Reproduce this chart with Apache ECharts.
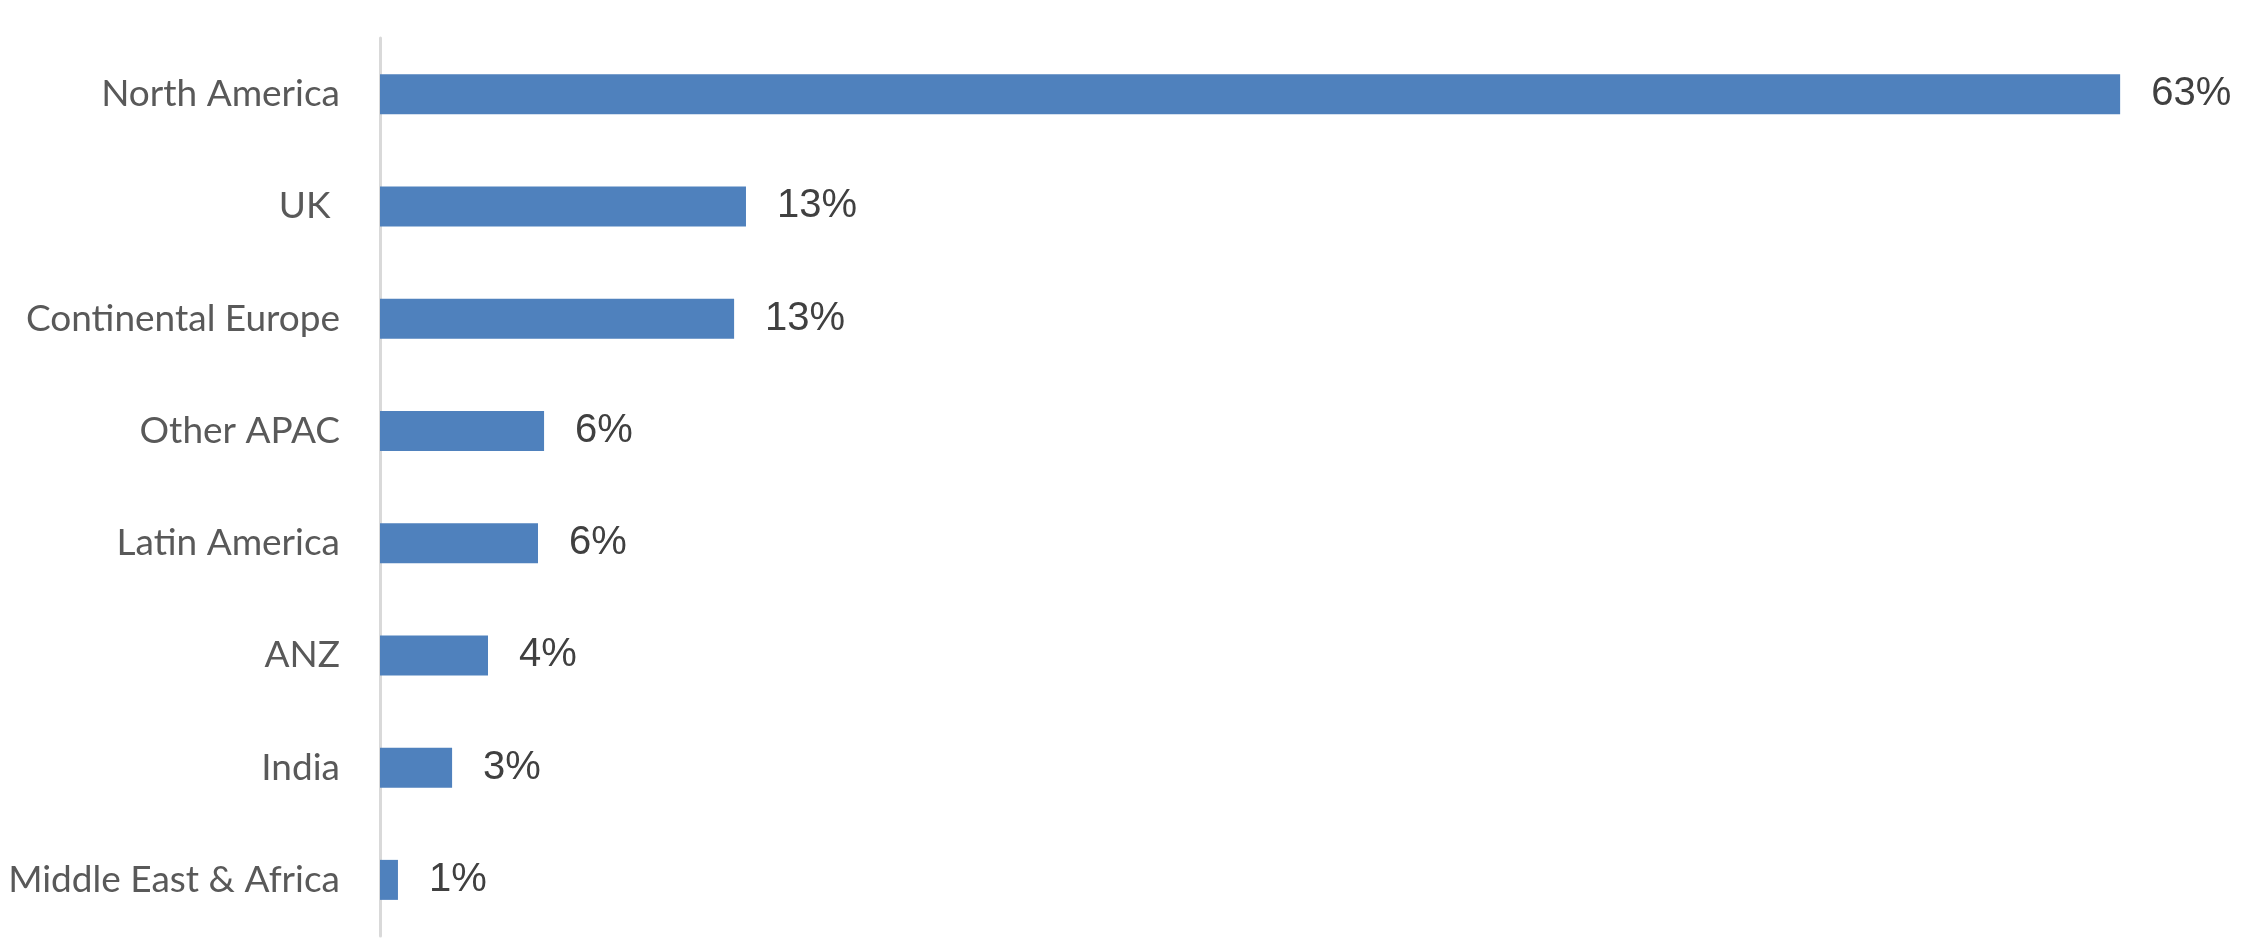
<!DOCTYPE html>
<html>
<head>
<meta charset="utf-8">
<script src="https://cdn.jsdelivr.net/npm/echarts@6/dist/echarts.min.js"></script>
<style>
html,body{margin:0;padding:0;background:#fff;}
#chart{width:2252px;height:948px;}
</style>
</head>
<body>
<div id="chart"></div>
<script>
const categories = ["North America", "UK ", "Continental Europe", "Other APAC", "Latin America", "ANZ", "India", "Middle East & Africa"];
const values = [63, 13.25, 12.82, 5.94, 5.72, 3.91, 2.61, 0.65];
const valueLabels = ["63%", "13%", "13%", "6%", "6%", "4%", "3%", "1%"];

const chart = echarts.init(document.getElementById('chart'), null, {renderer: 'canvas'});
chart.setOption({
  animation: false,
  backgroundColor: '#ffffff',
  grid: {left: 380, top: 38, bottom: 12, width: 1823, containLabel: false, outerBoundsMode: 'none'},
  xAxis: {
    type: 'value', min: 0, max: 66,
    show: false
  },
  yAxis: {
    type: 'category',
    data: categories,
    inverse: true,
    axisLine: {show: true, lineStyle: {color: '#d9d9d9', width: 3}},
    axisTick: {show: false},
    axisLabel: {
      margin: 40,
      color: '#595959',
      fontFamily: 'Lato',
      fontSize: 37
    }
  },
  series: [{
    type: 'bar',
    data: values,
    barWidth: 40,
    itemStyle: {color: '#4f81bd'},
    label: {
      show: true,
      position: 'right',
      distance: 31,
      color: '#404040',
      fontFamily: 'Liberation Sans',
      fontSize: 40,
      formatter: p => valueLabels[p.dataIndex]
    }
  }]
});
</script>
</body>
</html>
